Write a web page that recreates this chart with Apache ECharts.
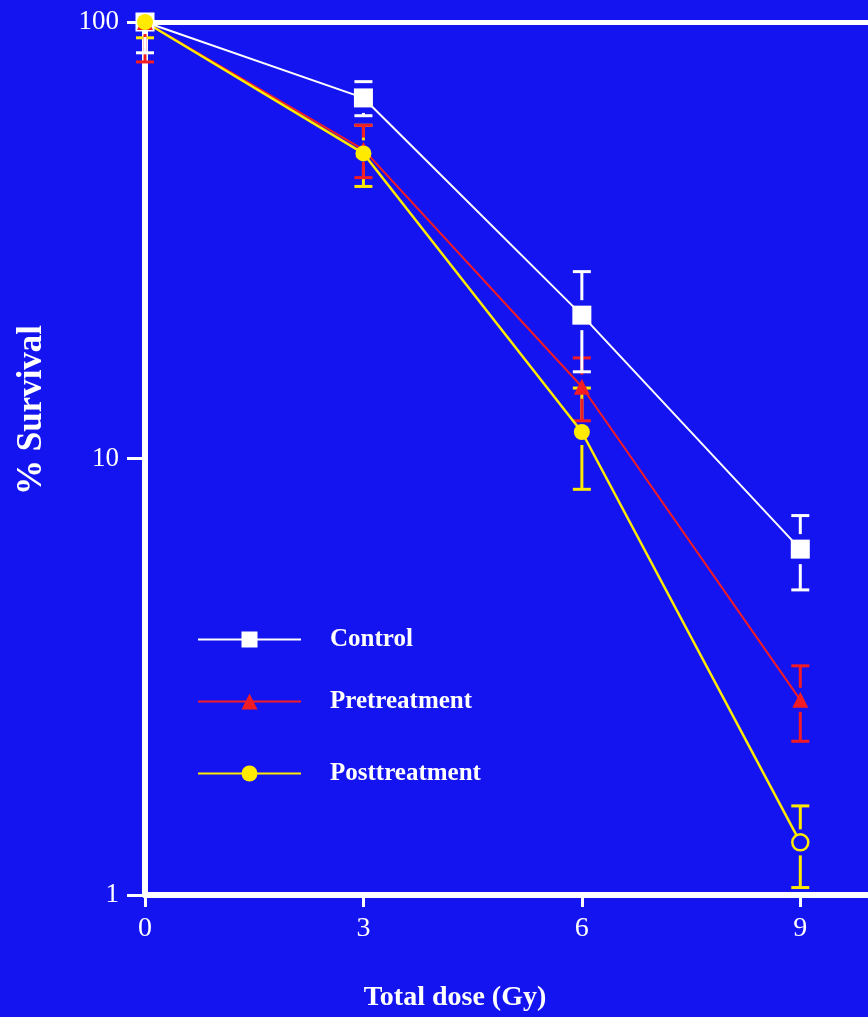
<!DOCTYPE html>
<html>
<head>
<meta charset="utf-8">
<script src="https://cdn.jsdelivr.net/npm/echarts@6/dist/echarts.min.js"></script>
<style>
  html, body { margin: 0; padding: 0; background: #1414f0; }
  #myChart { width: 868px; height: 1017px; }
</style>
</head>
<body>
<div id="myChart"></div>
<script>
// dose (Gy)
let doses = [0, 3, 6, 9]
// % survival
let control = [100, 67, 21.3, 6.2]
let controlErr = [15, 6, 5.5, 1.2]
let pre = [100, 51, 14.6, 2.8]
let preErr = [19, 7, 2.4, 0.55]
let post = [100, 50, 11.5, 1.32]
let postErr = [8, 8, 3, 0.28]
let names = ["Control", "Pretreatment", "Posttreatment"]

let bg = "#1414f0"
let white = "#ffffff"
let red = "#f41c24"
let yellow = "#ffea00"
let serif = "'Liberation Serif', 'DejaVu Serif', serif"

function pts(vals) {
    return doses.map((d, i) => [d, vals[i]])
}
function errs(vals, e) {
    return doses.map((d, i) => [d, vals[i] - e[i], vals[i] + e[i], vals[i]])
}

// error bar drawn with a gap round the marker
function errBar(color, gap) {
    return function (params, api) {
        let x = api.value(0)
        let lo = api.coord([x, api.value(1)])
        let hi = api.coord([x, Math.min(api.value(2), 100)])
        let mid = api.coord([x, api.value(3)])
        let topY = api.coord([x, 100])[1]
        let kids = []
        let ls = { stroke: color, lineWidth: 3 }
        if (mid[1] - gap > hi[1]) {
            kids.push({ type: "line", shape: { x1: mid[0], y1: hi[1], x2: mid[0], y2: mid[1] - gap }, style: ls })
        }
        if (api.value(2) <= 100 && hi[1] > topY) {
            kids.push({ type: "line", shape: { x1: mid[0] - 9, y1: hi[1], x2: mid[0] + 9, y2: hi[1] }, style: ls })
        }
        if (lo[1] > mid[1] + gap) {
            kids.push({ type: "line", shape: { x1: mid[0], y1: mid[1] + gap, x2: mid[0], y2: lo[1] }, style: ls })
        }
        kids.push({ type: "line", shape: { x1: mid[0] - 9, y1: lo[1], x2: mid[0] + 9, y2: lo[1] }, style: ls })
        return { type: "group", children: kids }
    }
}

var myChart = echarts.init(document.getElementById('myChart'))

// last posttreatment point is drawn open
let postData = pts(post).map((p, i) => i === 3 ? { value: p, itemStyle: { color: bg, borderColor: yellow, borderWidth: 2.5 } } : p)

let legendText = { color: white, fontFamily: serif, fontWeight: "bold", fontSize: 25, padding: [0, 0, 0, 24] }

// the plot runs past the right edge of the picture
let xMax = 9.93

var option = {
    backgroundColor: bg,
    animation: false,
    grid: { left: 145, top: 22, right: 0, height: 873 },
    legend: [
        { data: [names[0]], left: 197, top: 627, itemWidth: 103, itemHeight: 20, padding: 0, textStyle: legendText },
        { data: [names[1]], left: 197, top: 689, itemWidth: 103, itemHeight: 20, padding: 0, textStyle: legendText },
        { data: [names[2]], left: 197, top: 761, itemWidth: 103, itemHeight: 20, padding: 0, textStyle: legendText }
    ],
    xAxis: [{
        type: "value", min: 0, max: xMax, interval: 3,
        axisLine: { lineStyle: { color: white, width: 6 } },
        axisTick: { show: true, length: 12, lineStyle: { color: white, width: 3 } },
        axisLabel: { color: white, fontFamily: serif, fontSize: 28, margin: 20, showMaxLabel: false,
            formatter: v => v > 9 ? "" : v },
        splitLine: { show: false }
    }, {
        type: "value", position: "top", min: 0, max: xMax,
        axisLine: { show: true, lineStyle: { color: white, width: 5 } },
        axisTick: { show: false }, axisLabel: { show: false }, splitLine: { show: false }
    }],
    yAxis: {
        type: "log", min: 1, max: 100, logBase: 10,
        axisLine: { show: true, lineStyle: { color: white, width: 6 } },
        axisTick: { show: true, length: 18, lineStyle: { color: white, width: 3 } },
        minorTick: { show: false },
        axisLabel: { color: white, fontFamily: serif, fontSize: 27, margin: 26 },
        splitLine: { show: false }
    },
    graphic: [
        { type: "text", x: 32, y: 410, rotation: Math.PI / 2,
          style: { text: "% Survival", fill: white, font: "bold 35px " + serif, align: "center", verticalAlign: "middle" } },
        { type: "text", x: 455, y: 998,
          style: { text: "Total dose (Gy)", fill: white, font: "bold 28px " + serif, align: "center", verticalAlign: "middle" } }
    ],
    series: [
        { type: "custom", name: "postErr", data: errs(post, postErr), renderItem: errBar(yellow, 13), z: 3, silent: true },
        { type: "custom", name: "preErr", data: errs(pre, preErr), renderItem: errBar(red, 12), z: 3, silent: true },
        { type: "custom", name: "ctrlErr", data: errs(control, controlErr), renderItem: errBar(white, 15), z: 3, silent: true },
        { type: "line", name: names[0], data: pts(control), symbol: "rect", symbolSize: 19,
          lineStyle: { color: white, width: 2 }, itemStyle: { color: white }, z: 5 },
        { type: "line", name: names[1], data: pts(pre), symbol: "triangle", symbolSize: 16,
          lineStyle: { color: red, width: 2 }, itemStyle: { color: red }, z: 5 },
        { type: "line", name: names[2], data: postData, symbol: "circle", symbolSize: 16,
          lineStyle: { color: yellow, width: 2.5 }, itemStyle: { color: yellow }, z: 5 }
    ]
}

myChart.setOption(option)
</script>
</body>
</html>
